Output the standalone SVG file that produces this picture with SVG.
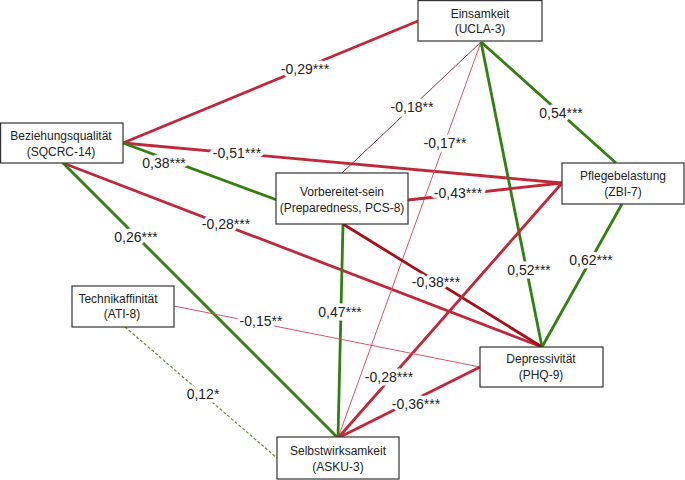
<svg xmlns="http://www.w3.org/2000/svg" width="685" height="480" viewBox="0 0 685 480">
<style>
.n rect{fill:#fff;stroke:#333;stroke-width:1.2}
.n text{font-family:"Liberation Sans",Arial,sans-serif;font-size:12px;fill:#222;text-anchor:middle}
.e line{fill:none;stroke-linecap:butt}
.r{stroke:#c0283a;stroke-width:2.8}
.dr{stroke:#a3101a;stroke-width:2.8}
.g{stroke:#337f10;stroke-width:2.8}
.tr{stroke:#d25766;stroke-width:1}
.tb{stroke:#8e3444;stroke-width:1}
.gd{stroke:#6b8a3c;stroke-width:1.2;stroke-dasharray:3 2}
.l text{font-family:"Liberation Sans",Arial,sans-serif;font-size:14px;fill:#222;text-anchor:middle;paint-order:stroke;stroke:#fff;stroke-width:7px;stroke-linejoin:round}
</style>
<rect width="685" height="480" fill="#fff"/>
<g id="connectors" class="e">
<line class="r" x1="123" y1="143" x2="418" y2="21"/>
<line class="r" x1="123" y1="143" x2="562" y2="183"/>
<line class="g" x1="123" y1="143" x2="277" y2="200"/>
<line class="r" x1="63" y1="163" x2="542" y2="347"/>
<line class="g" x1="63" y1="163" x2="338" y2="438"/>
<line class="tb" x1="481" y1="42" x2="342" y2="173"/>
<line class="tr" x1="481" y1="42" x2="338" y2="438"/>
<line class="g" x1="481" y1="42" x2="542" y2="347"/>
<line class="g" x1="481" y1="42" x2="616" y2="163"/>
<line class="r" x1="408" y1="200" x2="562" y2="183"/>
<line class="g" x1="343" y1="224" x2="338" y2="438"/>
<line class="dr" x1="343" y1="224" x2="542" y2="347"/>
<line class="r" x1="562" y1="183" x2="338" y2="438"/>
<line class="g" x1="622" y1="204" x2="542" y2="347"/>
<line class="tr" x1="174" y1="306" x2="480" y2="367"/>
<line class="gd" x1="125" y1="327" x2="277" y2="458"/>
<line class="r" x1="480" y1="367" x2="338" y2="438"/>
</g>
<g id="labels" class="l">
<text x="305" y="74">-0,29***</text>
<text x="237" y="158">-0,51***</text>
<text x="164" y="168">0,38***</text>
<text x="226" y="229">-0,28***</text>
<text x="136" y="242">0,26***</text>
<text x="412" y="112">-0,18**</text>
<text x="445" y="148">-0,17**</text>
<text x="561" y="118">0,54***</text>
<text x="458" y="198">-0,43***</text>
<text x="340" y="317">0,47***</text>
<text x="436" y="287">-0,38***</text>
<text x="529" y="275">0,52***</text>
<text x="591" y="265">0,62***</text>
<text x="389" y="382">-0,28***</text>
<text x="416" y="409">-0,36***</text>
<text x="261" y="326">-0,15**</text>
<text x="203" y="399">0,12*</text>
</g>
<g id="einsamkeit" class="n">
<rect x="418" y="0.6" width="124" height="40.4"/>
<text x="480" y="18">Einsamkeit</text>
<text x="480" y="33">(UCLA-3)</text>
</g>
<g id="beziehungsqualitaet" class="n">
<rect x="0.6" y="123" width="122.4" height="40"/>
<text x="61" y="140">Beziehungsqualität</text>
<text x="61" y="156">(SQCRC-14)</text>
</g>
<g id="vorbereitet" class="n">
<rect x="276" y="173" width="132" height="51"/>
<text x="342" y="196">Vorbereitet-sein</text>
<text x="342" y="212">(Preparedness, PCS-8)</text>
</g>
<g id="pflegebelastung" class="n">
<rect x="562" y="163" width="122" height="41"/>
<text x="623" y="180">Pflegebelastung</text>
<text x="623" y="196">(ZBI-7)</text>
</g>
<g id="technikaffinitaet" class="n">
<rect x="72" y="286" width="102" height="41"/>
<text x="118" y="303">Technikaffinität</text>
<text x="122" y="318">(ATI-8)</text>
</g>
<g id="depressivitaet" class="n">
<rect x="480" y="347" width="123" height="40"/>
<text x="541" y="363">Depressivität</text>
<text x="541" y="379">(PHQ-9)</text>
</g>
<g id="selbstwirksamkeit" class="n">
<rect x="277" y="437" width="122" height="42"/>
<text x="338" y="455">Selbstwirksamkeit</text>
<text x="338" y="471">(ASKU-3)</text>
</g>
</svg>
